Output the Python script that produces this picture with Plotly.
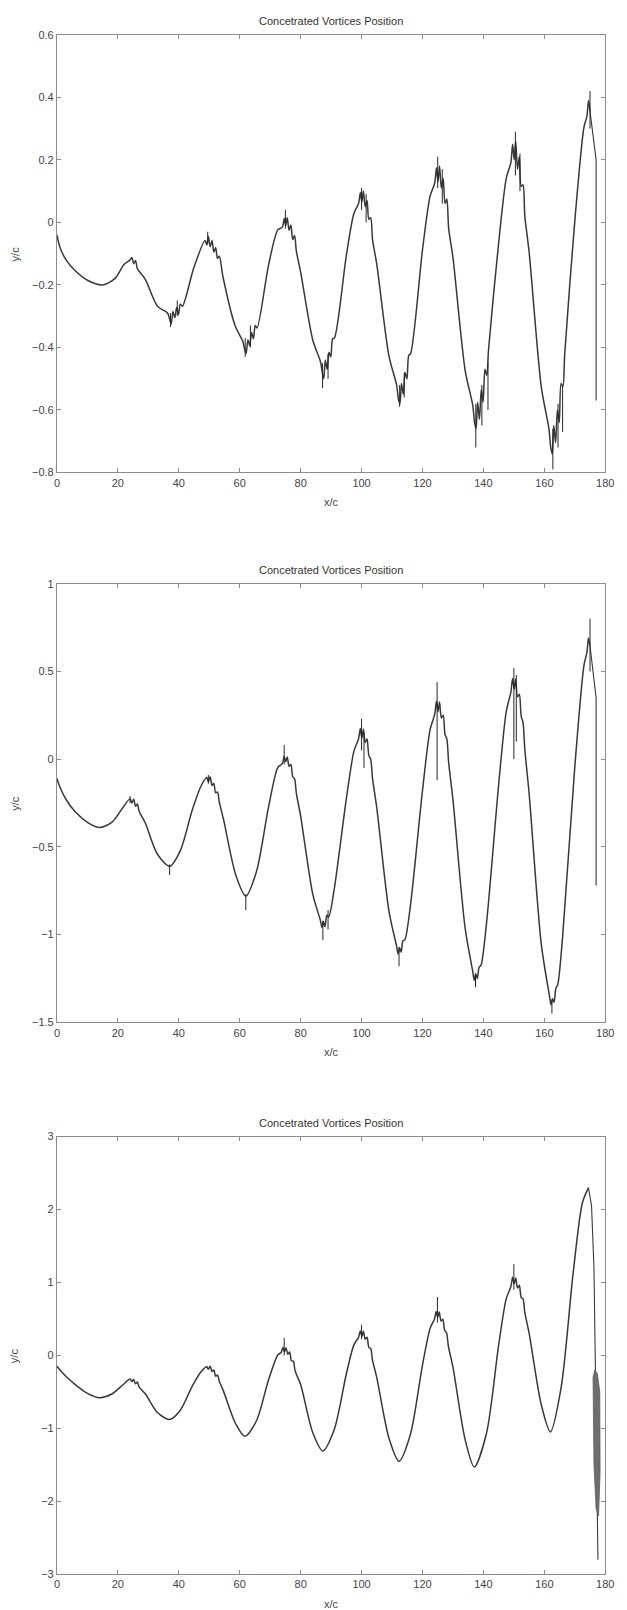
import plotly.graph_objects as go

# ---- vortex path, case 1 (y/c range -0.8 .. 0.6) ----
x_a = [0, 1, 3, 6, 10, 15, 19, 22, 24, 24.6, 25.2, 25.8, 26.4, 29, 33,
       36.3, 37.0, 37.5, 38.1, 38.7, 39.3, 39.9, 40.5, 41.2, 45,
       48.6, 49.2, 49.7, 50.3, 50.9, 51.5, 52.1, 52.7, 53.3, 54.5, 58.5,
       61.0, 61.6, 62.1, 62.7, 63.3, 63.9, 64.5, 65.1, 65.7, 69.5, 72.5,
       74.0, 74.6, 75.1, 75.6, 76.2, 76.8, 77.4, 78.0, 78.6, 80, 84,
       86.5, 87.1, 87.6, 88.1, 88.7, 89.3, 89.9, 90.5, 91.1, 95, 97.5,
       99.0, 99.6, 100.1, 100.6, 101.2, 101.8, 102.4, 103.0, 103.6, 105, 109,
       111.5, 112.1, 112.6, 113.1, 113.7, 114.3, 114.9, 115.5, 116.1, 120, 122.5,
       124.0, 124.6, 125.1, 125.6, 126.2, 126.8, 127.4, 128.0, 128.6, 130, 134,
       136.5, 137.1, 137.6, 138.1, 138.7, 139.3, 139.9, 140.5, 141.1, 141.7, 145, 147.5,
       149.0, 149.6, 150.1, 150.6, 151.2, 151.8, 152.4, 153.0, 153.6, 155, 159,
       161.5, 162.1, 162.6, 163.1, 163.7, 164.3, 164.9, 165.5, 166.1, 166.7, 170, 173,
       174.0, 174.5, 175.0]
y_a = [-0.04, -0.08, -0.12, -0.155, -0.185, -0.20, -0.18, -0.135, -0.12, -0.112, -0.132, -0.122, -0.148,
       -0.182, -0.268,
       -0.290, -0.310, -0.325, -0.285, -0.305, -0.272, -0.295, -0.262, -0.268, -0.143,
       -0.058, -0.072, -0.045, -0.078, -0.058, -0.095, -0.080, -0.115, -0.108, -0.174, -0.331,
       -0.380, -0.405, -0.420, -0.375, -0.395, -0.352, -0.372, -0.330, -0.338, -0.135, -0.024,
       -0.015, 0.012, -0.010, 0.015, -0.025, -0.008, -0.055, -0.042, -0.092, -0.159, -0.377,
       -0.445, -0.480, -0.500, -0.440, -0.470, -0.415, -0.430, -0.372, -0.370, -0.106, 0.029,
       0.060, 0.095, 0.065, 0.100, 0.050, 0.070, 0.010, 0.015, -0.055, -0.134, -0.428,
       -0.520, -0.565, -0.580, -0.515, -0.550, -0.480, -0.500, -0.425, -0.420, -0.088, 0.084,
       0.125, 0.175, 0.130, 0.180, 0.110, 0.140, 0.060, 0.075, -0.020, -0.112, -0.473,
       -0.585, -0.640, -0.660, -0.575, -0.630, -0.535, -0.575, -0.470, -0.490, -0.405, -0.066, 0.141,
       0.190, 0.250, 0.200, 0.260, 0.170, 0.210, 0.115, 0.120, 0.020, -0.094, -0.526,
       -0.660, -0.720, -0.740, -0.650, -0.705, -0.600, -0.640, -0.515, -0.525, -0.420, 0.004, 0.304,
       0.340, 0.390, 0.355]
tail_x_a = [175, 176.3, 177, 177]
tail_y_a = [0.355, 0.25, 0.20, -0.57]
spike_x_a = [37.3, 39.5, 49.5, 61.8, 63.5, 75, 87.2, 89, 100, 101.5, 112.5, 114,
             125, 126.5, 137.5, 139.5, 141.5, 150.5, 152, 162.8, 164.5, 166, 175]
spike_lo_a = [-0.335, -0.30, -0.07, -0.43, -0.40, -0.02, -0.53, -0.50, 0.04, 0.00, -0.59, -0.56,
              0.11, 0.06, -0.72, -0.65, -0.60, 0.15, 0.10, -0.79, -0.72, -0.67, 0.30]
spike_hi_a = [-0.29, -0.25, -0.03, -0.37, -0.33, 0.04, -0.45, -0.42, 0.11, 0.09, -0.52, -0.48,
              0.21, 0.17, -0.58, -0.52, -0.45, 0.29, 0.22, -0.66, -0.58, -0.52, 0.42]

# ---- vortex path, case 2 (y/c range -1.5 .. 1) ----
x_b = [0, 1, 3, 6, 10, 14, 18, 21.5, 24.0, 24.6, 25.2, 25.8, 26.4, 27.0, 29, 33, 37,
       40.5, 44.5, 47.5, 49.2, 49.7, 50.3, 50.9, 51.5, 52.1, 52.7, 53.3, 54.7, 58.7, 62,
       65.5, 69.5, 72.5, 74.0, 74.6, 75.1, 75.6, 76.2, 76.8, 77.4, 78.0, 78.6, 80, 84,
       86.5, 87.0, 87.5, 88.0, 88.6, 89.2, 91, 95, 97.5,
       99.0, 99.6, 100.1, 100.6, 101.2, 101.8, 102.4, 103.0, 103.6, 105, 109,
       111.5, 112.0, 112.5, 113.0, 113.6, 114.2, 116, 120, 122.5,
       124.0, 124.6, 125.1, 125.6, 126.2, 126.8, 127.4, 128.0, 128.6, 130, 134,
       136.5, 137.0, 137.5, 138.0, 138.6, 139.2, 141, 145, 147.5,
       149.0, 149.6, 150.1, 150.6, 151.2, 151.8, 152.4, 153.0, 153.6, 155, 159,
       161.7, 162.2, 162.7, 163.2, 163.8, 164.4, 166, 170, 173,
       174.0, 174.5, 175.0]
y_b = [-0.11, -0.16, -0.23, -0.30, -0.36, -0.39, -0.36, -0.28, -0.225, -0.250, -0.228, -0.268, -0.255,
       -0.298, -0.364, -0.542, -0.61,
       -0.521, -0.286, -0.146, -0.105, -0.130, -0.100, -0.150, -0.138, -0.192, -0.188, -0.245, -0.344,
       -0.660, -0.78,
       -0.640, -0.269, -0.048, -0.025, 0.015, -0.015, 0.012, -0.040, -0.030, -0.100, -0.112, -0.195,
       -0.324, -0.771,
       -0.920, -0.960, -0.925, -0.955, -0.890, -0.900, -0.744, -0.226, 0.046,
       0.115, 0.175, 0.120, 0.170, 0.095, 0.115, 0.020, 0.000, -0.110, -0.278, -0.867,
       -1.065, -1.110, -1.075, -1.100, -1.035, -1.030, -0.840, -0.180, 0.168,
       0.255, 0.330, 0.270, 0.325, 0.235, 0.250, 0.140, 0.115, -0.020, -0.231, -0.963,
       -1.210, -1.260, -1.225, -1.250, -1.185, -1.175, -0.939, -0.146, 0.271,
       0.380, 0.460, 0.400, 0.455, 0.355, 0.370, 0.245, 0.210, 0.055, -0.194, -1.054,
       -1.350, -1.400, -1.365, -1.385, -1.305, -1.285, -1.013, -0.044, 0.533,
       0.610, 0.690, 0.645]
tail_x_b = [175, 176.3, 177, 177]
tail_y_b = [0.645, 0.45, 0.35, -0.72]
spike_x_b = [24, 37, 49.7, 62, 74.6, 87.3, 89, 100, 100.8, 112.3, 124.8, 137.4, 150, 150.8, 162.5, 175]
spike_lo_b = [-0.25, -0.66, -0.14, -0.86, -0.03, -1.03, -0.97, 0.05, -0.05, -1.18, -0.12, -1.30,
              0.00, 0.10, -1.45, 0.50]
spike_hi_b = [-0.21, -0.60, -0.09, -0.77, 0.08, -0.92, -0.86, 0.23, 0.15, -1.07, 0.44, -1.22,
              0.52, 0.48, -1.37, 0.80]

# ---- vortex path, case 3 (y/c range -3 .. 3) ----
x_c = [0, 1, 3, 6, 10, 14, 18, 21.5, 24.0, 24.6, 25.2, 25.8, 26.4, 27.0, 29, 33, 37,
       40.5, 44.5, 47.5, 49.2, 49.7, 50.3, 50.9, 51.5, 52.1, 52.7, 53.3, 54.7, 58.7, 61.7,
       65.5, 69.5, 72.5, 73.6, 74.2, 74.7, 75.2, 75.8, 76.4, 77.0, 77.6, 78.2, 80, 84, 87.3,
       91, 95, 97.5, 99.0, 99.6, 100.1, 100.6, 101.2, 101.8, 102.4, 103.0, 103.6, 105, 109, 112.3,
       116, 120, 122.5, 123.9, 124.5, 125.0, 125.5, 126.1, 126.7, 127.3, 127.9, 128.5, 130, 134, 137,
       141, 145, 147.5, 149.0, 149.6, 150.1, 150.6, 151.2, 151.8, 152.4, 153.0, 153.6, 155, 159, 162,
       165.5, 169.5, 172.5, 174.5]
y_c = [-0.15, -0.20, -0.29, -0.40, -0.52, -0.58, -0.53, -0.41, -0.325, -0.360, -0.330, -0.390, -0.365,
       -0.435, -0.526, -0.783, -0.88,
       -0.752, -0.415, -0.214, -0.155, -0.190, -0.150, -0.220, -0.200, -0.285, -0.270, -0.355, -0.494,
       -0.941, -1.11,
       -0.896, -0.331, 0.006, 0.040, 0.110, 0.050, 0.105, 0.015, 0.045, -0.075, -0.080, -0.215,
       -0.400, -1.060, -1.31,
       -1.020, -0.255, 0.147, 0.245, 0.335, 0.260, 0.330, 0.220, 0.250, 0.110, 0.095, -0.070,
       -0.304, -1.135, -1.45,
       -1.088, -0.133, 0.370, 0.495, 0.600, 0.520, 0.595, 0.470, 0.495, 0.340, 0.310, 0.125,
       -0.161, -1.154, -1.53,
       -1.071, 0.140, 0.778, 0.940, 1.070, 0.980, 1.060, 0.925, 0.960, 0.795, 0.775, 0.585,
       0.306, -0.677, -1.05,
       -0.447, 1.144, 2.092, 2.30]
tail_x_c = [174.5, 175.5, 176.3, 176.8, 177.2, 177.6]
tail_y_c = [2.30, 2.05, 1.20, 0.00, -1.50, -2.80]
spike_x_c = [74.6, 100, 124.9, 150]
spike_lo_c = [0.00, 0.22, 0.45, 0.90]
spike_hi_c = [0.24, 0.42, 0.80, 1.25]
# dense scatter at the end of the third path, outlined in data units
blot_x_c = [176.0, 176.6, 177.4, 178.2, 178.3, 177.8, 177.0, 176.3, 176.0]
blot_y_c = [-0.30, -0.20, -0.25, -0.50, -1.60, -2.20, -2.10, -1.50, -0.30]

x_ticks = [0, 20, 40, 60, 80, 100, 120, 140, 160, 180]
y_ticks = [[0.6, 0.4, 0.2, 0, -0.2, -0.4, -0.6, -0.8],
           [1, 0.5, 0, -0.5, -1, -1.5],
           [3, 2, 1, 0, -1, -2, -3]]
y_ranges = [(-0.8, 0.6), (-1.5, 1), (-3, 3)]
title_text = "Concetrated Vortices Position"

W, H = 627, 1610
plot_left, plot_right = 55, 614
panel_px = [(29, 470), (582, 1024), (1139, 1580)]   # top, bottom of each panel

LINE = "#383838"
DARK = "#262626"
FONT = "Liberation Sans, Arial, sans-serif"

fig = go.Figure()

series = [
    (x_a, y_a, tail_x_a, tail_y_a, spike_x_a, spike_lo_a, spike_hi_a),
    (x_b, y_b, tail_x_b, tail_y_b, spike_x_b, spike_lo_b, spike_hi_b),
    (x_c, y_c, tail_x_c, tail_y_c, spike_x_c, spike_lo_c, spike_hi_c),
]

for k, (xs, ys, tx, ty, sx, slo, shi) in enumerate(series):
    xa = "x" if k == 0 else f"x{k + 1}"
    ya = "y" if k == 0 else f"y{k + 1}"
    fig.add_trace(go.Scatter(x=xs, y=ys, mode="lines", xaxis=xa, yaxis=ya,
                             line=dict(color=LINE, width=1.5, shape="spline", smoothing=0.8),
                             showlegend=False, hoverinfo="skip"))
    fig.add_trace(go.Scatter(x=tx, y=ty, mode="lines", xaxis=xa, yaxis=ya,
                             line=dict(color=LINE, width=1.1),
                             showlegend=False, hoverinfo="skip"))
    px, py = [], []
    for s, lo, hi in zip(sx, slo, shi):
        px += [s, s, None]
        py += [lo, hi, None]
    fig.add_trace(go.Scatter(x=px, y=py, mode="lines", xaxis=xa, yaxis=ya,
                             line=dict(color=DARK, width=1.0),
                             showlegend=False, hoverinfo="skip"))

fig.add_trace(go.Scatter(x=blot_x_c, y=blot_y_c, mode="lines", xaxis="x3", yaxis="y3",
                         fill="toself", fillcolor="#6e6e6e",
                         line=dict(color="#5a5a5a", width=0.8),
                         showlegend=False, hoverinfo="skip"))

axis_common = dict(showgrid=False, zeroline=False, showline=True, linecolor="#8c8c8c",
                   linewidth=1, mirror="ticks", ticks="inside", ticklen=4,
                   tickcolor="#8c8c8c", tickfont=dict(family=FONT, size=11, color="#444444"))

layout = dict(width=W, height=H, margin=dict(l=0, r=0, t=0, b=0),
              paper_bgcolor="white", plot_bgcolor="white", showlegend=False)
annotations = []
xdom = [plot_left / W, plot_right / W]
for k in range(3):
    top, bot = panel_px[k]
    ydom = [1 - bot / H, 1 - top / H]
    sfx = "" if k == 0 else str(k + 1)
    layout["xaxis" + sfx] = dict(axis_common, domain=xdom, range=[0, 180],
                                 tickvals=x_ticks, anchor="y" + sfx)
    layout["yaxis" + sfx] = dict(axis_common, domain=ydom, range=list(y_ranges[k]),
                                 tickvals=y_ticks[k], anchor="x" + sfx)
    cx = (plot_left + plot_right) / 2 / W
    annotations.append(dict(text=title_text, x=cx, y=1 - (top - 14) / H, xref="paper",
                            yref="paper", showarrow=False, xanchor="center", yanchor="middle",
                            font=dict(family=FONT, size=11, color="#333333")))
    annotations.append(dict(text="x/c", x=cx, y=1 - (bot + 30) / H, xref="paper",
                            yref="paper", showarrow=False, xanchor="center", yanchor="middle",
                            font=dict(family=FONT, size=11, color="#444444")))
    annotations.append(dict(text="y/c", x=12 / W, y=1 - (top + bot) / 2 / H, xref="paper",
                            yref="paper", showarrow=False, textangle=-90,
                            xanchor="center", yanchor="middle",
                            font=dict(family=FONT, size=11, color="#444444")))
layout["annotations"] = annotations
fig.update_layout(**layout)

fig.write_html("out.html")
